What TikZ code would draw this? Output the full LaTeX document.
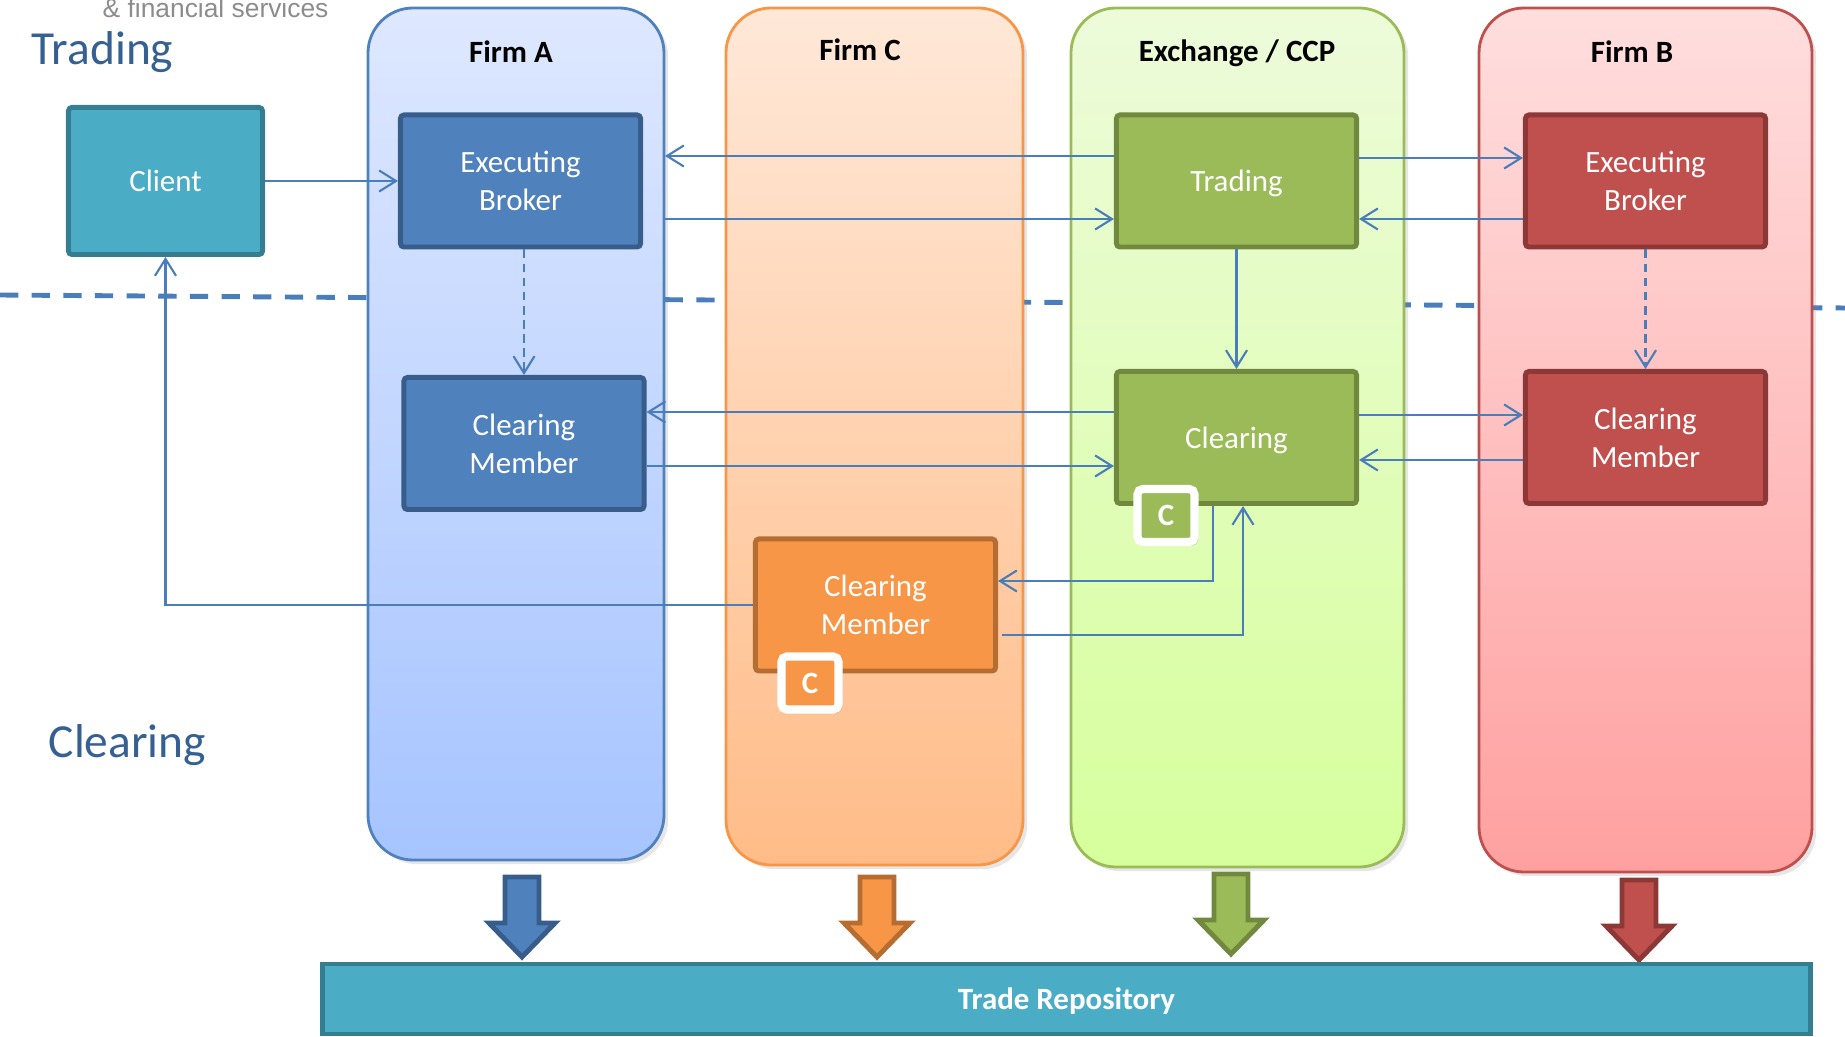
\documentclass[tikz,border=0pt]{standalone}
\usepackage{fontspec}
\setmainfont{Carlito}
\newfontfamily\logofont{Liberation Sans}
\usetikzlibrary{arrows.meta,shadows}

\definecolor{clientfill}{HTML}{4BACC6}
\definecolor{clientline}{HTML}{357D91}
\definecolor{afill}{HTML}{4F81BD}
\definecolor{aline}{HTML}{385D8A}
\definecolor{cfill}{HTML}{F79646}
\definecolor{cline}{HTML}{B66D31}
\definecolor{exfill}{HTML}{9BBB59}
\definecolor{exline}{HTML}{71893F}
\definecolor{bfill}{HTML}{C0504D}
\definecolor{bline}{HTML}{8C3836}
\definecolor{linkblue}{HTML}{4A7EBB}
\definecolor{labelblue}{HTML}{366092}
% column gradients
\definecolor{atop}{HTML}{DEE8FF}
\definecolor{abottom}{HTML}{A6C4FF}
\definecolor{ctop}{HTML}{FFE8D8}
\definecolor{cbottom}{HTML}{FFBC88}
\definecolor{extop}{HTML}{EDFBDA}
\definecolor{exbottom}{HTML}{D6FF9C}
\definecolor{btop}{HTML}{FFDEDE}
\definecolor{bbottom}{HTML}{FFA0A0}

\tikzset{
  pics/downarrow/.style 2 args={code={
    \draw[fill=#1, draw=#2, line width=1.4pt, line join=miter]
      (-17,0) -- (17,0) -- (17,46) -- (33,46) -- (0,80) -- (-33,46) -- (-17,46) -- cycle;
  }}
}

\begin{document}
\begin{tikzpicture}[x=0.01cm, y=-0.01cm,
  every node/.style={font=\fontsize{8.8}{10.8}\selectfont},
  column/.style n args={3}{top color=#1, bottom color=#2, draw=#3, line width=0.8pt,
    rounded corners=0.45cm,
    drop shadow={shadow xshift=1.2pt, shadow yshift=-1.2pt, opacity=0.2}},
  coltitle/.style={font=\fontsize{8.8}{10.8}\selectfont\bfseries},
  box/.style 2 args={fill=#1, draw=#2, line width=1.4pt, rounded corners=1pt,
    text=white, align=center, inner sep=0pt,
    minimum width=2.4cm, minimum height=1.32cm},
  badge/.style={fill=#1, draw=white, line width=2.3pt, rounded corners=1.5pt,
    text=white, font=\fontsize{8.8}{10.8}\selectfont\bfseries, inner sep=0pt,
    minimum width=0.57cm, minimum height=0.53cm,
    drop shadow={shadow xshift=1pt, shadow yshift=-1pt, opacity=0.3}},
  sidelabel/.style={anchor=base west, inner sep=0pt, text=labelblue,
    font=\fontsize{13.5}{16}\selectfont},
  link/.style={draw=linkblue, line width=0.6pt, -{Straight Barb[length=4.8pt,width=6pt]}},
  hint/.style={link, dash pattern=on 2.5pt off 1.5pt}]

\useasboundingbox (0,0) rectangle (1845,1037);

% trading / clearing separator
\draw[linkblue, line width=1.4pt, dash pattern=on 5.2pt off 3.8pt] (0,295) -- (1845,308);

% columns
\path[column={atop}{abottom}{afill}] (368,8) rectangle (664,860);
\path[column={ctop}{cbottom}{cfill}] (726,8) rectangle (1023,865);
\path[column={extop}{exbottom}{exfill}] (1071,8) rectangle (1404,867);
\path[column={btop}{bbottom}{bfill}] (1479,8) rectangle (1812,872);
\coordinate (aedge) at (665,0);

\node[coltitle] (titlea) at (511,52) {Firm A};
\node[coltitle] (titlec) at (860,50) {Firm C};
\node[coltitle] (titleex) at (1237,53) {Exchange / CCP};
\node[coltitle] (titleb) at (1632,52) {Firm B};

% labels on the left
\node[anchor=base west, inner sep=0pt, text=black!45, font=\logofont\fontsize{7.5}{9}\selectfont] (logo) at (102,18) {\& financial services};
\node[sidelabel] (tradinglabel) at (31,65) {Trading};
\node[sidelabel] (clearinglabel) at (48,758) {Clearing};

% boxes
\node[box={clientfill}{clientline}, minimum width=1.94cm, minimum height=1.47cm] (client) at (165.5,181) {Client};
\node[box={afill}{aline}] (eba) at (520.5,181) {Executing\\Broker};
\node[box={afill}{aline}] (cma) at (524,443.5) {Clearing\\Member};
\node[box={exfill}{exline}, text depth=0pt] (trading) at (1236.5,181) {Trading};
\node[box={exfill}{exline}, text depth=0pt] (clearing) at (1236.5,437.5) {Clearing};
\node[box={bfill}{bline}] (ebb) at (1645.5,181) {Executing\\Broker};
\node[box={bfill}{bline}] (cmb) at (1645.5,437.5) {Clearing\\Member};
\node[box={cfill}{cline}] (cmc) at (875.5,605) {Clearing\\Member};

% trading links
\draw[link] (client) -- (eba);
\draw[link] (trading.west |- 0,156) -- (aedge |- 0,156);
\draw[link] (aedge |- 0,219) -- (trading.west |- 0,219);
\draw[link] (trading.east |- 0,158) -- (ebb.west |- 0,158);
\draw[link] (ebb.west |- 0,219) -- (trading.east |- 0,219);
\draw[link] (trading) -- (clearing);
\draw[hint] (eba.south -| 524,0) -- (cma.north -| 524,0);
\draw[hint] (ebb) -- (cmb);

% clearing links
\draw[link] (clearing.west |- 0,412) -- (cma.east |- 0,412);
\draw[link] (cma.east |- 0,466) -- (clearing.west |- 0,466);
\draw[link] (clearing.east |- 0,415) -- (cmb.west |- 0,415);
\draw[link] (cmb.west |- 0,460) -- (clearing.east |- 0,460);
\draw[link] (1213,0 |- clearing.south) |- (cmc.east |- 0,581);
\draw[link] ([xshift=1.2pt]cmc.east |- 0,635) -| (1243,0 |- clearing.south);
\draw[link] (cmc.west |- 0,605) -| (client.south);

% CCP badges
\node[badge=exfill] (badgeex) at (1166,515.5) {C};
\node[badge=cfill] (badgec) at (810,683) {C};

% reporting
\pic at (522,877) {downarrow={afill}{aline}};
\pic at (877,877) {downarrow={cfill}{cline}};
\pic at (1231,874) {downarrow={exfill}{exline}};
\pic at (1639,880) {downarrow={bfill}{bline}};

\node[fill=clientfill, draw=clientline, line width=1.4pt, text=white,
  font=\fontsize{8.8}{10.8}\selectfont\bfseries, text depth=0pt,
  minimum width=14.88cm, minimum height=0.70cm, inner sep=0pt] (repo) at (1066.5,999) {Trade Repository};
\end{tikzpicture}
\end{document}
